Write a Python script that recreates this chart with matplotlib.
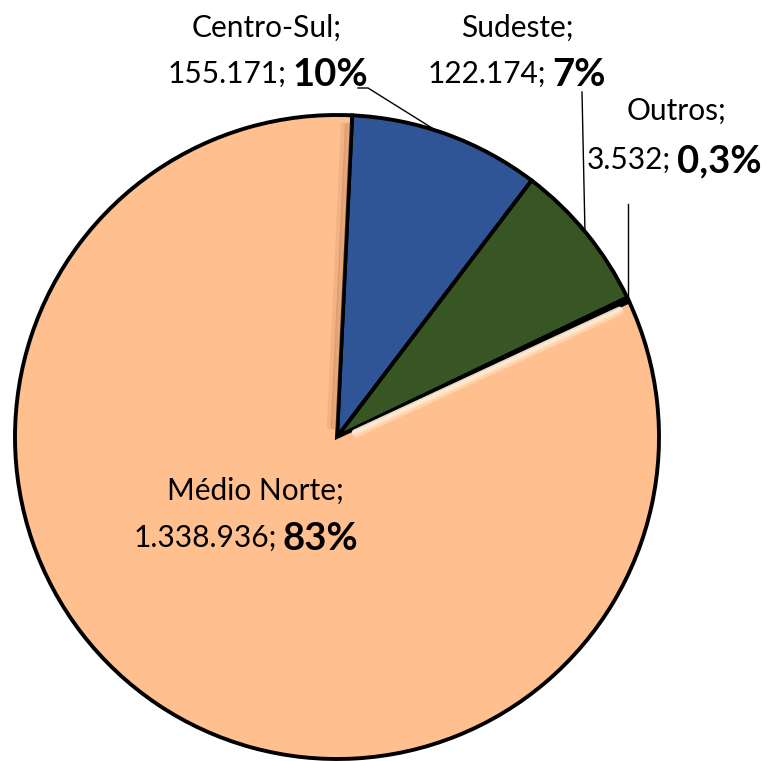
import matplotlib
matplotlib.use("Agg")
import matplotlib.pyplot as plt
import numpy as np

categories = ["Centro-Sul", "Sudeste", "Outros", "Médio Norte"]
values = [155171, 122174, 3532, 1338936]
pct_labels = ["10%", "7%", "0,3%", "83%"]
colors = ["#2F5597", "#375623", "#1a1a1a", "#FFBF8F"]

W, H = 768, 761
fig = plt.figure(figsize=(W / 100, H / 100), dpi=100)
ax = fig.add_axes([0, 0, 1, 1])

cx, cy, r = 337, H - 437, 322
start = 87.3
wedges, _ = ax.pie(values, colors=colors, startangle=start, counterclock=False,
                   center=(cx, cy), radius=r, frame=True,
                   wedgeprops=dict(edgecolor="black", linewidth=2.8))
ax.set_xlim(0, W)
ax.set_ylim(0, H)
ax.set_aspect("equal")
ax.axis("off")

# subtle bevel on the large slice
fr = np.array(values, dtype=float) / sum(values)
a_end = np.deg2rad(start - fr[:3].sum() * 360)  # boundary Outros / Médio Norte
a_beg = np.deg2rad(start)                         # boundary Médio Norte / Centro-Sul
for off, col, lw, al in [(5, "#FFF3DC", 4, 0.9), (10, "#FFE0C0", 4, 0.6)]:
    nx_, ny_ = np.sin(a_end), -np.cos(a_end)  # normal pointing into big slice
    t = np.linspace(18, r - 12, 2)
    ax.plot(cx + t * np.cos(a_end) + off * nx_ * 0.6,
            cy + t * np.sin(a_end) + off * ny_ * 0.6,
            color=col, lw=lw, alpha=al, solid_capstyle="round", zorder=3)
for off, al in [(4, 0.35), (8, 0.18)]:
    nx_, ny_ = -np.sin(a_beg), np.cos(a_beg)
    t = np.linspace(10, r - 10, 2)
    ax.plot(cx + t * np.cos(a_beg) + off * nx_,
            cy + t * np.sin(a_beg) + off * ny_,
            color="#B8794F", lw=4, alpha=al, solid_capstyle="round", zorder=3)

FONT = "Lato"
NS, BS = 21.5, 27.5


def fmt(v):
    return f"{v:,}".replace(",", ".")


# label layout: (name center x, name y, split x, second line y) in image px
layout = {
    "Centro-Sul": (267, 28, 286, 74),
    "Sudeste": (517, 28, 546, 74),
    "Outros": (676, 111, 671, 160),
    "Médio Norte": (255, 491, 277, 538),
}

for cat, v, p in zip(categories, values, pct_labels):
    nx, ny, sx, y2 = layout[cat]
    ax.text(nx, H - ny, cat + ";", ha="center", va="center", fontsize=NS,
            family=FONT, color="black", zorder=5)
    ax.text(sx, H - y2, fmt(v) + ";", ha="right", va="center", fontsize=NS,
            family=FONT, color="black", zorder=5)
    ax.text(sx + 6, H - y2 - 1, p, ha="left", va="center", fontsize=BS,
            family=FONT, fontweight="bold", color="black", zorder=5)

# leader lines
ax.plot([358, 368, 440], [H - 88, H - 88, H - 133], color="black", lw=1)
ax.plot([582, 585], [H - 92, H - 233], color="black", lw=1)
ax.plot([628, 628], [H - 204, H - 298], color="black", lw=1)

fig.savefig("out.png", dpi=100)
